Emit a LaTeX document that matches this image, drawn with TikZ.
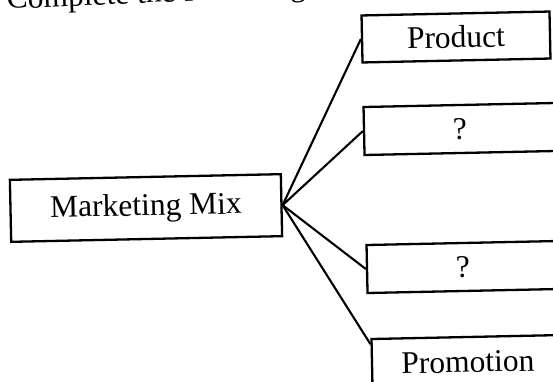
\documentclass[tikz,border=0pt]{standalone}
\usepackage{fontspec}
\setmainfont{Liberation Serif}
\usetikzlibrary{calc}
\begin{document}
\begin{tikzpicture}[x=1pt,y=-1pt,
  box/.style={draw=black, line width=2.3pt, fill=white, inner sep=0pt, rotate=1.2,
    font=\fontsize{31.5}{36}\selectfont},
  link/.style={draw=black, line width=2.1pt}]
\useasboundingbox (0,0) rectangle (553,382);
\clip (0,0) rectangle (553,382);
\fill[white] (0,0) rectangle (553,382);
\node[anchor=base west, inner sep=0pt, rotate=2.5, font=\fontsize{31.5}{36}\selectfont] (title) at (7,9) {Complete the following diagram};
\node[box, minimum width=271pt, minimum height=62pt] (mm) at (146,208) {Marketing Mix};
\node[box, minimum width=188pt, minimum height=47pt] (prod) at (456,37) {Product};
\node[box, minimum width=192pt, minimum height=48pt] (q1) at (460,129) {?};
\node[box, minimum width=192pt, minimum height=48pt] (q2) at (463,267) {?};
\node[box, minimum width=192pt, minimum height=50pt] (prom) at (468,362) {Promotion};
\coordinate (pin) at ($(prom.north west)!0.12!(prom.south west)$);
\draw[link] (mm.east) -- (prod.west);
\draw[link] (mm.east) -- (q1.west);
\draw[link] (mm.east) -- (q2.west);
\draw[link] (mm.east) -- (pin);
\end{tikzpicture}
\end{document}
